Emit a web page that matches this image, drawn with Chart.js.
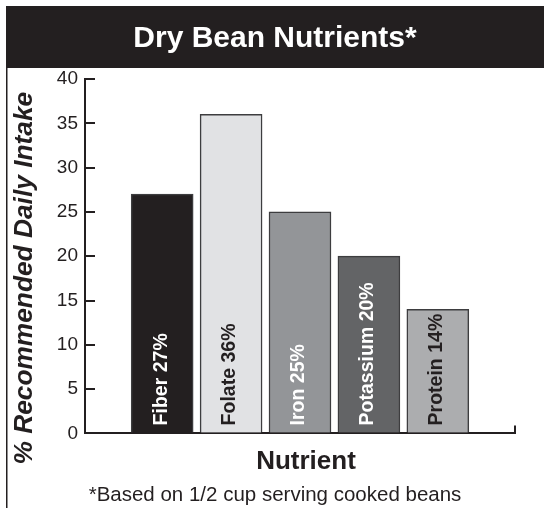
<!doctype html>
<html lang="en">
  <head>
    <meta charset="UTF-8" />
    <title>Dry Bean Nutrients</title>
    <script src="https://cdn.jsdelivr.net/npm/chart.js@4"></script>
    <style>
      html,
      body {
        margin: 0;
        padding: 0;
        background: #fff;
      }
      #wrap {
        width: 544px;
        height: 508px;
      }
    </style>
  </head>
  <body>
    <div id="wrap"><canvas id="beanChart" width="544" height="508"></canvas></div>

    <script>
      // values
      const nutrients = ['Fiber', 'Folate', 'Iron', 'Potassium', 'Protein'];
      const dailyIntake = [27, 36, 25, 20, 14];
      const yTicks = [0, 5, 10, 15, 20, 25, 30, 35, 40];

      const barColors = ['#231f20', '#e1e2e4', '#939598', '#636466', '#acadaf'];
      const labelColors = ['#ffffff', '#231f20', '#ffffff', '#ffffff', '#231f20'];
      const ink = '#231f20';

      Chart.defaults.font.family = '"Liberation Sans", Arial, sans-serif';
      Chart.defaults.color = ink;

      // nudge an axis title a few px (the original isn't centred on the axis)
      function shiftTitle(scale, dx, dy) {
        if (scale._shifted) return;
        const orig = scale.drawTitle;
        scale.drawTitle = function () {
          const ctx = this.ctx;
          ctx.save();
          ctx.translate(dx, dy);
          orig.call(this);
          ctx.restore();
        };
        scale._shifted = true;
      }

      // black title band + thin frame line on the left
      const frame = {
        id: 'frame',
        afterLayout(chart) {
          chart.boxes.forEach((b) => {
            if (b.fullSize && !b.axis) {
              b.left = 6;
              b.right = 544;
              b.width = 538;
            }
          });
          shiftTitle(chart.scales.y, 1, 22);
          shiftTitle(chart.scales.x, 6, 0);
        },
        beforeDraw(chart) {
          const ctx = chart.ctx;
          ctx.save();
          ctx.fillStyle = '#fff';
          ctx.fillRect(0, 0, chart.width, chart.height);
          ctx.fillStyle = ink;
          ctx.fillRect(6, 6, 538, 62);
          ctx.fillRect(6, 68, 1.5, chart.height - 68);
          ctx.restore();
        },
      };

      // rotated name + percent inside each bar
      const barText = {
        id: 'barText',
        afterDatasetsDraw(chart) {
          const ctx = chart.ctx;
          const meta = chart.getDatasetMeta(0);
          ctx.save();
          ctx.font = 'bold 19.5px "Liberation Sans", Arial, sans-serif';
          ctx.textAlign = 'left';
          ctx.textBaseline = 'middle';
          meta.data.forEach((bar, i) => {
            ctx.save();
            ctx.translate(bar.x, bar.base - 7);
            ctx.rotate(-Math.PI / 2);
            ctx.fillStyle = labelColors[i];
            ctx.fillText(nutrients[i] + ' ' + dailyIntake[i] + '%', 0, -1);
            ctx.restore();
          });
          ctx.restore();
        },
      };

      new Chart(document.getElementById('beanChart'), {
        type: 'bar',
        data: {
          datasets: [
            {
              data: dailyIntake.map((v, i) => ({ x: i, y: v })),
              backgroundColor: barColors,
              borderColor: '#3d3d3f',
              borderWidth: 1.5,
              barThickness: 62,
            },
          ],
        },
        options: {
          responsive: false,
          animation: false,
          devicePixelRatio: 1,
          layout: { padding: { left: 8, right: 29, top: 0, bottom: 0 } },
          plugins: {
            legend: { display: false },
            tooltip: { enabled: false },
            title: {
              display: true,
              text: 'Dry Bean Nutrients*',
              color: '#ffffff',
              font: { size: 30, weight: 'bold' },
              padding: { top: 21, bottom: 22 },
            },
            subtitle: {
              display: true,
              position: 'bottom',
              text: '*Based on 1/2 cup serving cooked beans',
              color: ink,
              font: { size: 20.5, weight: 'normal' },
              padding: { top: 3, bottom: 0 },
            },
          },
          scales: {
            x: {
              type: 'linear',
              offset: false,
              min: -1.12,
              max: 5.12,
              afterBuildTicks: (s) => {
                s.ticks = [{ value: s.max }];
              },
              ticks: { display: false },
              grid: {
                offset: false,
                drawOnChartArea: false,
                drawTicks: true,
                tickLength: -8,
                color: ink,
                lineWidth: 2,
              },
              border: { display: true, color: ink, width: 2 },
              title: {
                display: true,
                text: 'Nutrient',
                color: ink,
                font: { size: 26, weight: 'bold' },
                padding: { top: 0, bottom: 3.4 },
              },
              afterFit: (s) => {
                s.height = 47;
              },
            },
            y: {
              min: 0,
              max: 40,
              afterBuildTicks: (s) => {
                s.ticks = yTicks.map((v) => ({ value: v }));
              },
              ticks: { color: ink, font: { size: 19 }, padding: 17 },
              grid: {
                drawOnChartArea: false,
                drawTicks: true,
                tickLength: -10,
                color: ink,
                lineWidth: 2,
              },
              border: { display: true, color: ink, width: 2 },
              title: {
                display: true,
                text: '% Recommended Daily Intake',
                color: ink,
                font: { size: 26.3, weight: 'bold', style: 'italic' },
                padding: { top: 0, bottom: 0 },
              },
              afterFit: (s) => {
                s.width = 77;
              },
            },
          },
        },
        plugins: [frame, barText],
      });
    </script>
  </body>
</html>
